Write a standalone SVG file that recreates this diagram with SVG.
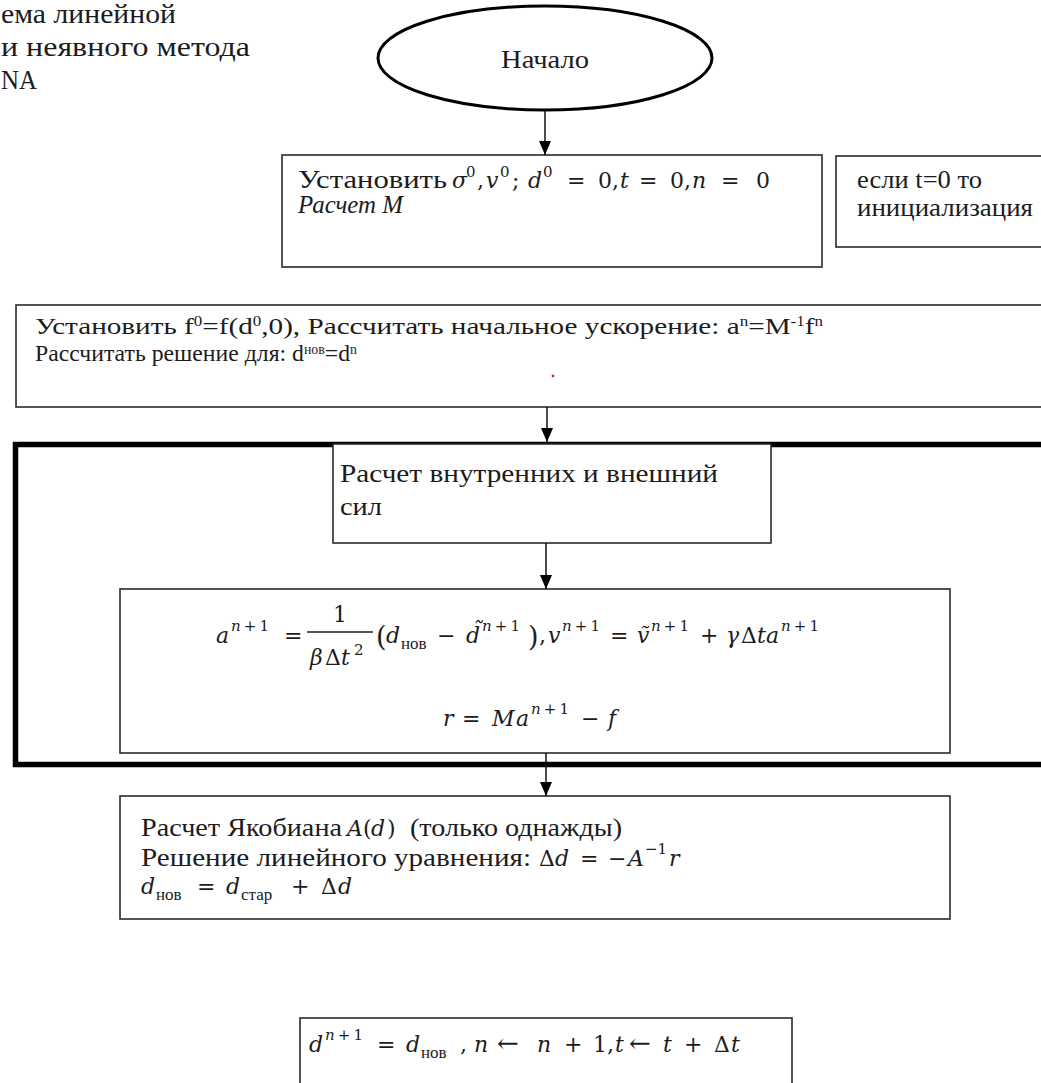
<svg xmlns="http://www.w3.org/2000/svg" width="1041" height="1083" viewBox="0 0 1041 1083">
  <style>
    .t { font-family: "Liberation Serif", "Times New Roman", serif; font-size: 25px; fill: #1c1c1c; }
    .ti { font-style: italic; }
    .big { font-size: 27px; }
    .t24 { font-size: 24px; }
    .m { font-family: "DejaVu Serif", "Liberation Serif", serif; font-style: italic; font-size: 22px; fill: #1c1c1c; }
    .u { font-style: normal; }
    .sp { font-size: 15px; }
    .ar { font-size: 26px; }
    .sb { font-family: "Liberation Serif", serif; font-style: normal; font-size: 17px; }
    .s { font-size: 14px; }
    .box { fill: #ffffff; stroke: #2a2a2a; stroke-width: 1.6; }
    .frame { fill: none; stroke: #000000; stroke-width: 5.5; }
    .edge { stroke: #111111; stroke-width: 1.5; fill: none; }
  </style>
  <defs>
    <marker id="arrow" markerUnits="userSpaceOnUse" markerWidth="14" markerHeight="12" refX="14" refY="6" orient="auto">
      <path d="M0,0 L14,6 L0,12 z" fill="#000000"/>
    </marker>
  </defs>

  <rect x="0" y="0" width="1041" height="1083" fill="#ffffff"/>

  <!-- heading, cut at the left margin -->
  <g id="heading">
    <text class="t big" x="1" y="23" textLength="175" lengthAdjust="spacingAndGlyphs">ема линейной</text>
    <text class="t big" x="1" y="56" textLength="249" lengthAdjust="spacingAndGlyphs">и неявного метода</text>
    <text class="t big" x="1" y="89" textLength="36" lengthAdjust="spacingAndGlyphs">NA</text>
  </g>

  <!-- outer loop frame -->
  <g id="loop-frame">
    <rect class="frame" x="15.5" y="444.5" width="1040" height="320"/>
  </g>

  <!-- start terminal -->
  <g id="start">
    <ellipse cx="545" cy="58" rx="167" ry="52" fill="#ffffff" stroke="#000000" stroke-width="3"/>
    <text class="t" x="545" y="68" text-anchor="middle" textLength="88" lengthAdjust="spacingAndGlyphs">Начало</text>
  </g>

  <!-- initial state -->
  <g id="init">
    <rect class="box" x="282" y="155" width="540" height="112"/>
    <text class="t" x="298" y="188" textLength="149" lengthAdjust="spacingAndGlyphs">Установить</text>
    <text class="m" x="452" y="188">σ</text>
    <text class="m u sp" x="466" y="177">0</text>
    <text class="m u" x="477" y="188">,</text>
    <text class="m" x="486" y="188">v</text>
    <text class="m u sp" x="500" y="177">0</text>
    <text class="m u" x="512" y="188">;</text>
    <text class="m" x="528" y="188">d</text>
    <text class="m u sp" x="543" y="177">0</text>
    <text class="m u" x="567" y="188">=</text>
    <text class="m u" x="598" y="188">0</text>
    <text class="m u" x="612" y="188">,</text>
    <text class="m" x="620" y="188">t</text>
    <text class="m u" x="639" y="188">=</text>
    <text class="m u" x="670" y="188">0</text>
    <text class="m u" x="684" y="188">,</text>
    <text class="m" x="692" y="188">n</text>
    <text class="m u" x="721" y="188">=</text>
    <text class="m u" x="756" y="188">0</text>
    <text class="t ti" x="298" y="213" textLength="105" lengthAdjust="spacingAndGlyphs">Расчет M</text>
  </g>

  <!-- side note -->
  <g id="note">
    <rect class="box" x="836" y="156" width="220" height="91"/>
    <text class="t" x="857" y="188" textLength="125" lengthAdjust="spacingAndGlyphs">если t=0 то</text>
    <text class="t" x="857" y="216" textLength="176" lengthAdjust="spacingAndGlyphs">инициализация</text>
  </g>

  <!-- initial acceleration -->
  <g id="accel">
    <rect class="box" x="16" y="305" width="1040" height="102"/>
    <text class="t t24" x="35" y="334" textLength="788" lengthAdjust="spacingAndGlyphs">Установить f<tspan class="s" dy="-8">0</tspan><tspan dy="8">=f(d</tspan><tspan class="s" dy="-8">0</tspan><tspan dy="8">,0), Рассчитать начальное ускорение: a</tspan><tspan class="s" dy="-8">n</tspan><tspan dy="8">=M</tspan><tspan class="s" dy="-8">-1</tspan><tspan dy="8">f</tspan><tspan class="s" dy="-8">n</tspan></text>
    <text class="t t24" x="35" y="361" textLength="322" lengthAdjust="spacingAndGlyphs">Рассчитать решение для: d<tspan class="s" dy="-7">нов</tspan><tspan dy="7">=d</tspan><tspan class="s" dy="-7">n</tspan></text>
    <circle cx="553" cy="376" r="1.4" fill="#c0392b"/>
  </g>

  <!-- forces -->
  <g id="forces">
    <rect class="box" x="333" y="444" width="438" height="99"/>
    <text class="t" x="340" y="482" textLength="378" lengthAdjust="spacingAndGlyphs">Расчет внутренних и внешний</text>
    <text class="t" x="340" y="515" textLength="42" lengthAdjust="spacingAndGlyphs">сил</text>
  </g>

  <!-- acceleration, velocity and residual -->
  <g id="residual">
    <rect class="box" x="120" y="589" width="830" height="164"/>
    <text class="m" x="216" y="643">a</text>
    <text class="m sp" x="231" y="631" textLength="38" lengthAdjust="spacing">n<tspan class="u">+1</tspan></text>
    <text class="m u" x="284" y="643">=</text>
    <text class="m u" x="340" y="622" text-anchor="middle">1</text>
    <line x1="307" y1="632" x2="373" y2="632" stroke="#1c1c1c" stroke-width="1.3"/>
    <text class="m" x="310" y="665">β</text>
    <text class="m u" x="325" y="665">Δ</text>
    <text class="m" x="341" y="665">t</text>
    <text class="m u sp" x="354" y="655">2</text>
    <text class="m u" x="376" y="646" style="font-size:27px">(</text>
    <text class="m" x="386" y="643">d</text>
    <text class="sb" x="401" y="649" fill="#1c1c1c">нов</text>
    <text class="m u" x="437" y="643">−</text>
    <text class="m" x="466" y="643">d&#x303;</text>
    <text class="m sp" x="482" y="631" textLength="38" lengthAdjust="spacing">n<tspan class="u">+1</tspan></text>
    <text class="m u" x="528" y="646" style="font-size:27px">)</text>
    <text class="m u" x="539" y="643">,</text>
    <text class="m" x="548" y="643">v</text>
    <text class="m sp" x="562" y="631" textLength="38" lengthAdjust="spacing">n<tspan class="u">+1</tspan></text>
    <text class="m u" x="610" y="643">=</text>
    <text class="m" x="637" y="643">v&#x303;</text>
    <text class="m sp" x="651" y="631" textLength="38" lengthAdjust="spacing">n<tspan class="u">+1</tspan></text>
    <text class="m u" x="700" y="643">+</text>
    <text class="m" x="726" y="643">γ</text>
    <text class="m u" x="741" y="643">Δ</text>
    <text class="m" x="757" y="643">t</text>
    <text class="m" x="766" y="643">a</text>
    <text class="m sp" x="781" y="631" textLength="38" lengthAdjust="spacing">n<tspan class="u">+1</tspan></text>

    <text class="m" x="443" y="726">r</text>
    <text class="m u" x="462" y="726">=</text>
    <text class="m" x="492" y="726">M</text>
    <text class="m" x="516" y="726">a</text>
    <text class="m sp" x="531" y="714" textLength="38" lengthAdjust="spacing">n<tspan class="u">+1</tspan></text>
    <text class="m u" x="581" y="726">−</text>
    <text class="m" x="608" y="726">f</text>
  </g>

  <!-- Newton update -->
  <g id="newton">
    <rect class="box" x="120" y="796" width="830" height="123"/>
    <text class="t" x="141" y="836" textLength="201" lengthAdjust="spacingAndGlyphs">Расчет Якобиана</text>
    <text class="m" x="347" y="836">A</text>
    <text class="m u" x="363" y="836">(</text>
    <text class="m" x="371" y="836">d</text>
    <text class="m u" x="387" y="836">)</text>
    <text class="t" x="410" y="836" textLength="212" lengthAdjust="spacingAndGlyphs">(только однажды)</text>

    <text class="t" x="141" y="866" textLength="390" lengthAdjust="spacingAndGlyphs">Решение линейного уравнения:</text>
    <text class="m u" x="539" y="866">Δ</text>
    <text class="m" x="555" y="866">d</text>
    <text class="m u" x="580" y="866">=</text>
    <text class="m u" x="608" y="866">−</text>
    <text class="m" x="628" y="866">A</text>
    <text class="m u sp" x="645" y="854">−1</text>
    <text class="m" x="669" y="866">r</text>

    <text class="m" x="141" y="894">d</text>
    <text class="sb" x="156" y="900" fill="#1c1c1c">нов</text>
    <text class="m u" x="197" y="894">=</text>
    <text class="m" x="226" y="894">d</text>
    <text class="sb" x="241" y="900" fill="#1c1c1c">стар</text>
    <text class="m u" x="291" y="894">+</text>
    <text class="m u" x="321" y="894">Δ</text>
    <text class="m" x="338" y="894">d</text>
  </g>

  <!-- step advance -->
  <g id="advance">
    <rect class="box" x="300" y="1018" width="492" height="90"/>
    <text class="m" x="309" y="1052">d</text>
    <text class="m sp" x="325" y="1040" textLength="38" lengthAdjust="spacing">n<tspan class="u">+1</tspan></text>
    <text class="m u" x="377" y="1052">=</text>
    <text class="m" x="406" y="1052">d</text>
    <text class="sb" x="421" y="1058" fill="#1c1c1c">нов</text>
    <text class="m u" x="460" y="1052">,</text>
    <text class="m" x="474" y="1052">n</text>
    <text class="m u ar" x="497" y="1052">←</text>
    <text class="m" x="537" y="1052">n</text>
    <text class="m u" x="564" y="1052">+</text>
    <text class="m u" x="593" y="1052">1</text>
    <text class="m u" x="607" y="1052">,</text>
    <text class="m" x="615" y="1052">t</text>
    <text class="m u ar" x="629" y="1052">←</text>
    <text class="m" x="663" y="1052">t</text>
    <text class="m u" x="684" y="1052">+</text>
    <text class="m u" x="714" y="1052">Δ</text>
    <text class="m" x="731" y="1052">t</text>
  </g>

  <!-- connectors -->
  <g id="connectors">
    <line class="edge" x1="545" y1="110" x2="545" y2="155" marker-end="url(#arrow)"/>
    <line class="edge" x1="547" y1="407" x2="547" y2="442" marker-end="url(#arrow)"/>
    <line class="edge" x1="546" y1="543" x2="546" y2="589" marker-end="url(#arrow)"/>
    <line class="edge" x1="546" y1="753" x2="546" y2="796" marker-end="url(#arrow)"/>
  </g>
</svg>
